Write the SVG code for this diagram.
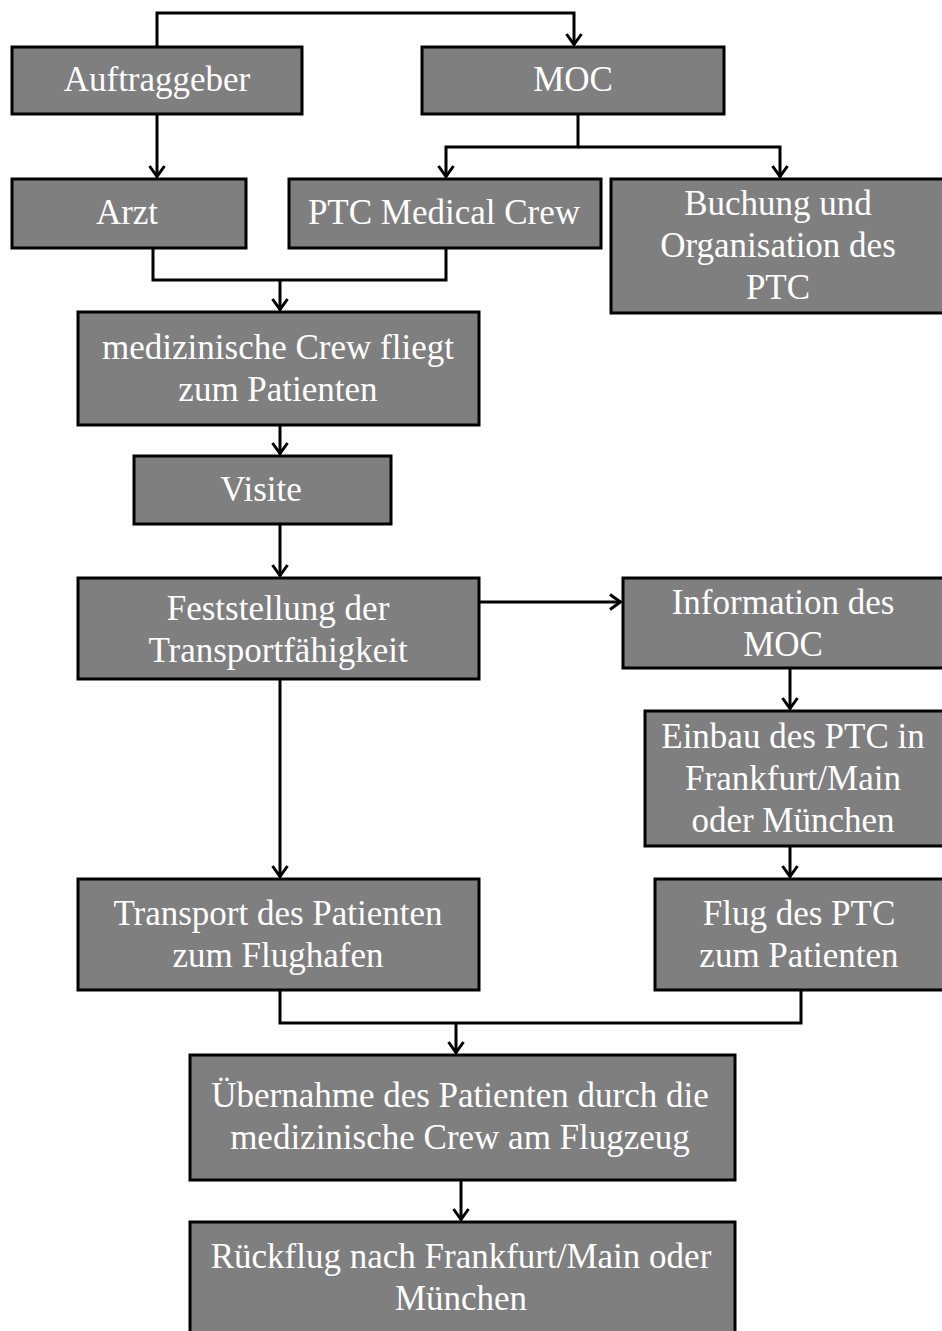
<svg xmlns="http://www.w3.org/2000/svg" width="942" height="1331" viewBox="0 0 942 1331">
<defs>
<marker id="arr" viewBox="0 0 16 20" refX="14" refY="10" markerWidth="16" markerHeight="20" markerUnits="userSpaceOnUse" orient="auto">
<polyline points="3,2.5 13.5,10 3,17.5" fill="none" stroke="#000" stroke-width="3" stroke-linejoin="miter"/>
</marker>
<style>
.b{fill:#7f7f7f;stroke:#000;stroke-width:3}
.t{font-size:35px;fill:#fff;text-anchor:middle}
.c{fill:none;stroke:#000;stroke-width:3}
</style>
</defs>
<rect width="942" height="1331" fill="#fff"/>
<g id="connectors">
<path class="c" d="M157,47 V13 H574 V45" marker-end="url(#arr)"/>
<path class="c" d="M157,114 V177" marker-end="url(#arr)"/>
<path class="c" d="M578,114 V147 H446 V177" marker-end="url(#arr)"/>
<path class="c" d="M578,147 H780 V177" marker-end="url(#arr)"/>
<path class="c" d="M153,248 V280 H446 V248"/>
<path class="c" d="M280,280 V310" marker-end="url(#arr)"/>
<path class="c" d="M280,425 V454" marker-end="url(#arr)"/>
<path class="c" d="M280,524 V576" marker-end="url(#arr)"/>
<path class="c" d="M479,602 H621" marker-end="url(#arr)"/>
<path class="c" d="M790,668 V709" marker-end="url(#arr)"/>
<path class="c" d="M790,846 V877" marker-end="url(#arr)"/>
<path class="c" d="M280,679 V877" marker-end="url(#arr)"/>
<path class="c" d="M280,990 V1023 H801 V990"/>
<path class="c" d="M456,1023 V1053" marker-end="url(#arr)"/>
<path class="c" d="M461,1180 V1220" marker-end="url(#arr)"/>
</g>
<g font-family="'Liberation Serif', 'DejaVu Serif', serif">
<g id="n-auftraggeber"><rect class="b" x="12" y="47" width="290" height="67"/><text class="t" x="157" y="91">Auftraggeber</text></g>
<g id="n-moc"><rect class="b" x="422" y="47" width="302" height="67"/><text class="t" x="573" y="91">MOC</text></g>
<g id="n-arzt"><rect class="b" x="12" y="179" width="234" height="69"/><text class="t" x="127" y="224">Arzt</text></g>
<g id="n-ptc-crew"><rect class="b" x="289" y="179" width="312" height="69"/><text class="t" x="444" y="224">PTC Medical Crew</text></g>
<g id="n-buchung"><rect class="b" x="611" y="179" width="333" height="134"/><text class="t" x="778" y="215">Buchung und</text><text class="t" x="778" y="257">Organisation des</text><text class="t" x="778" y="299">PTC</text></g>
<g id="n-crew-fliegt"><rect class="b" x="78" y="312" width="401" height="113"/><text class="t" x="278" y="359">medizinische Crew fliegt</text><text class="t" x="278" y="401">zum Patienten</text></g>
<g id="n-visite"><rect class="b" x="134" y="456" width="257" height="68"/><text class="t" x="261" y="501">Visite</text></g>
<g id="n-feststellung"><rect class="b" x="78" y="578" width="401" height="101"/><text class="t" x="278" y="620">Feststellung der</text><text class="t" x="278" y="662">Transportfähigkeit</text></g>
<g id="n-information"><rect class="b" x="623" y="578" width="321" height="90"/><text class="t" x="783" y="614">Information des</text><text class="t" x="783" y="656">MOC</text></g>
<g id="n-einbau"><rect class="b" x="645" y="711" width="299" height="135"/><text class="t" x="793" y="748">Einbau des PTC in</text><text class="t" x="793" y="790">Frankfurt/Main</text><text class="t" x="793" y="832">oder München</text></g>
<g id="n-transport"><rect class="b" x="78" y="879" width="401" height="111"/><text class="t" x="278" y="925">Transport des Patienten</text><text class="t" x="278" y="967">zum Flughafen</text></g>
<g id="n-flug"><rect class="b" x="655" y="879" width="289" height="111"/><text class="t" x="799" y="925">Flug des PTC</text><text class="t" x="799" y="967">zum Patienten</text></g>
<g id="n-uebernahme"><rect class="b" x="190" y="1055" width="545" height="125"/><text class="t" x="460" y="1107">Übernahme des Patienten durch die</text><text class="t" x="460" y="1149">medizinische Crew am Flugzeug</text></g>
<g id="n-rueckflug"><rect class="b" x="190" y="1222" width="545" height="112"/><text class="t" x="461" y="1268">Rückflug nach Frankfurt/Main oder</text><text class="t" x="461" y="1310">München</text></g>
</g>
</svg>
